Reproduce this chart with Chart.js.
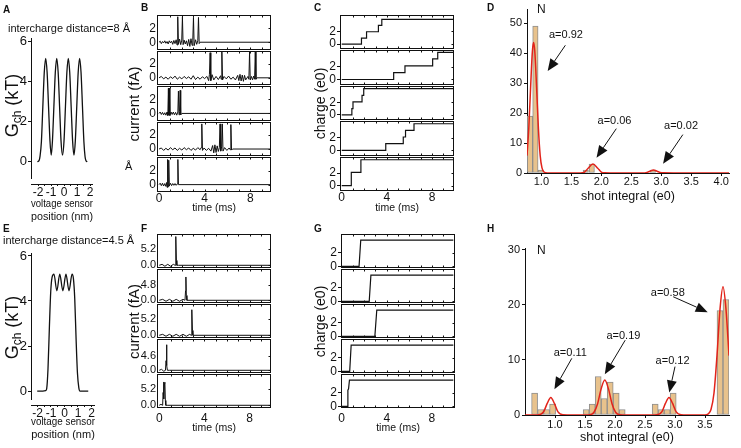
<!DOCTYPE html>
<html>
<head>
<meta charset="utf-8">
<script src="https://cdn.jsdelivr.net/npm/chart.js@4.4.1/dist/chart.umd.min.js"></script>
<style>
  body { margin: 0; background: #fff; }
  #fig { position: relative; width: 741px; height: 448px; overflow: hidden;
         font-family: 'Liberation Sans', Arial, Helvetica, sans-serif; color: #111; }
  #fig canvas { position: absolute; }
  .t { position: absolute; white-space: nowrap; line-height: 1; transform: translateY(-50%); font-size: 11px; }
  .p { font-weight: bold; font-size: 10px; }
</style>
</head>
<body>
<div id="fig">
  <canvas id="cA" width="115" height="226" style="left:0;top:0"></canvas>
  <canvas id="cB" width="160" height="225" style="left:120px;top:0"></canvas>
  <canvas id="cC" width="160" height="225" style="left:300px;top:0"></canvas>
  <canvas id="cD" width="251" height="225" style="left:490px;top:0"></canvas>
  <canvas id="cE" width="115" height="223" style="left:0;top:225px"></canvas>
  <canvas id="cF" width="160" height="223" style="left:120px;top:225px"></canvas>
  <canvas id="cG" width="160" height="223" style="left:300px;top:225px"></canvas>
  <canvas id="cH" width="251" height="223" style="left:490px;top:225px"></canvas>

  <div class="t p" style="left:3px;top:10px">A</div>
  <div class="t p" style="left:141px;top:8px">B</div>
  <div class="t p" style="left:314px;top:8px">C</div>
  <div class="t p" style="left:487px;top:8px">D</div>
  <div class="t p" style="left:3px;top:229px">E</div>
  <div class="t p" style="left:141px;top:229px">F</div>
  <div class="t p" style="left:314px;top:229px">G</div>
  <div class="t p" style="left:487px;top:229px">H</div>
  <div class="t" style="left:8px;top:28px">intercharge distance=8 Å</div>
  <div class="t" style="left:3px;top:240px">intercharge distance=4.5 Å</div>
  <div class="t" style="left:125px;top:166px">Å</div>
  <div class="t" style="left:537px;top:9px;font-size:12px">N</div>
  <div class="t" style="left:537px;top:250px;font-size:12px">N</div>
</div>

<script>
// ---------- A / E : charge energy profile vs voltage sensor position ----------
const posA = [-2.05, -1.92, -1.85, -1.74, -1.63, -1.52, -1.41, -1.30, -1.19, -1.08, -0.985, -0.89, -0.78,
  -0.67, -0.56, -0.45, -0.34, -0.23, -0.115, 0.0, 0.11, 0.22, 0.33, 0.44, 0.55, 0.66, 0.765, 0.87,
  0.98, 1.09, 1.20, 1.31, 1.42, 1.53, 1.62, 1.69, 1.79];
const gA = [0, 0.05, 0.25, 1.0, 2.75, 4.46, 5.17, 4.46, 2.75, 1.04, 0.33, 1.04, 2.75,
  4.46, 5.17, 4.46, 2.75, 1.04, 0.33, 1.04, 2.75, 4.46, 5.17, 4.46, 2.75, 1.04, 0.33, 1.04,
  2.75, 4.46, 5.17, 4.46, 2.75, 1.0, 0.25, 0.05, 0];
const posE = [-2.02, -1.6, -1.4, -1.32, -1.22, -1.12, -1.02, -0.92, -0.78, -0.565, -0.35, -0.12,
  0.11, 0.335, 0.56, 0.66, 0.76, 0.86, 0.96, 1.06, 1.15, 1.76];
const gE = [0, 0, 0.02, 0.1, 1.0, 2.8, 4.4, 5.05, 5.19, 4.45, 5.19, 4.45,
  5.19, 4.45, 5.19, 5.0, 4.1, 2.3, 0.8, 0.15, 0, 0];
const posTicks = [-2, -1.5, -1, -0.5, 0, 0.5, 1, 1.5, 2];
const energyTicks = [0, 2, 4, 6];

// ---------- B : gating current traces, 8 Å (fA) ----------
const tB1 = [0, 0.1, 0.2, 0.3, 0.4, 0.5, 0.6, 0.7, 0.8, 0.9, 1.0, 1.1, 1.2, 1.3, 1.4, 1.5, 1.58, 1.64, 1.7, 1.8,
  1.9, 1.99, 2.05, 2.11, 2.2, 2.3, 2.4, 2.5, 2.6, 2.7, 2.8, 2.9, 2.96, 3.02, 3.08, 3.2, 3.3, 3.4, 3.46, 3.52, 3.6, 9.9];
const iB1 = [0, 0.15, -0.2, 0.1, -0.1, 0.2, -0.15, 0.1, -0.25, 0.2, -0.1, 0.15, -0.3, 0.25, -0.2, 0.35, -0.4, 3.65, -0.3, 0.45,
  -0.35, 0.3, 3.65, -0.35, 0.3, -0.25, 0.2, -0.5, 0.4, -0.6, 0.5, -0.45, 0.3, 3.55, -0.5, 0.35, -0.3, 0.2, 3.55, -0.2, 0, 0];
const tB2 = [0, 0.2, 0.4, 0.6, 0.8, 1.0, 1.2, 1.4, 1.6, 1.8, 2.0, 2.2, 2.4, 2.6, 2.8, 3.0, 3.2, 3.4, 3.6, 3.8,
  4.0, 4.2, 4.35, 4.42, 4.48, 4.54, 4.65, 4.8, 5.0, 5.2, 5.4, 5.45, 5.51, 5.57, 5.7, 5.9, 6.1, 6.3, 6.5, 6.7,
  6.9, 7.0, 7.1, 7.2, 7.3, 7.4, 7.5, 7.6, 7.8, 7.88, 7.94, 8.0, 8.1, 8.2, 8.3, 8.38, 8.44, 8.5, 8.6, 9.9];
const iB2 = [0, 0.2, -0.15, 0.1, -0.2, 0.15, -0.1, 0.25, -0.2, 0.1, -0.15, 0.2, -0.1, 0.15, -0.2, 0.3, -0.25, 0.1, -0.2, 0.15,
  -0.1, 0.2, -0.4, 0.5, 3.6, -0.4, 0.45, -0.3, 0.2, -0.25, 0.3, -0.2, 3.7, -0.3, 0.2, -0.15, 0.25, -0.2, 0.1, -0.3,
  0.35, -0.4, 0.5, -0.45, 0.4, -0.5, 0.35, -0.3, 0.2, -0.2, 3.7, -0.3, 0.2, -0.3, 0.25, -0.2, 3.7, -0.2, 0, 0];
const tB3 = [0, 0.1, 0.2, 0.3, 0.4, 0.5, 0.6, 0.7, 0.77, 0.82, 0.86, 0.9, 0.95, 1.05, 1.15, 1.25, 1.35, 1.45, 1.55, 1.65,
  1.7, 1.75, 1.8, 1.85, 1.9, 2.0, 9.9];
const iB3 = [0, 0.2, -0.15, 0.15, -0.2, 0.1, -0.25, 0.2, -0.3, 3.6, -0.2, 3.6, -0.3, 0.2, -0.15, 0.2, -0.2, 0.15, -0.25, 0.2,
  3.2, -0.2, 0.3, 3.3, -0.2, 0, 0];
const tB4 = [0, 0.2, 0.4, 0.6, 0.8, 1.0, 1.2, 1.4, 1.6, 1.8, 2.0, 2.2, 2.4, 2.6, 2.8, 3.0, 3.2, 3.4, 3.6, 3.69,
  3.75, 3.81, 3.95, 4.15, 4.35, 4.55, 4.7, 4.8, 4.9, 5.0, 5.1, 5.2, 5.29, 5.35, 5.41, 5.49, 5.55, 5.61, 5.75, 5.95,
  6.15, 6.24, 6.3, 6.36, 6.45, 9.9];
const iB4 = [0, 0.15, -0.2, 0.1, -0.15, 0.2, -0.1, 0.15, -0.2, 0.1, -0.15, 0.2, -0.1, 0.15, -0.2, 0.1, -0.15, 0.2, -0.1, 0.2,
  3.6, -0.2, 0.15, -0.2, 0.1, -0.3, 0.5, -0.55, 0.6, -0.5, 0.45, -0.35, 0.2, 3.6, -0.3, 0.3, 3.6, -0.3, 0.2, -0.2,
  0.15, -0.1, 3.5, -0.15, 0, 0];
const tB5 = [0, 0.1, 0.2, 0.3, 0.4, 0.5, 0.6, 0.66, 0.71, 0.75, 0.8, 0.85, 0.9, 1.0, 1.1, 1.2, 1.3, 1.4, 1.5, 1.6,
  1.65, 1.7, 9.9];
const iB5 = [0, 0.2, -0.15, 0.2, -0.2, 0.15, -0.25, 0.3, -0.4, 3.6, -0.3, 3.5, -0.2, 0.2, -0.15, 0.15, -0.1, 0.15, -0.1, 0.1,
  3.6, 0, 0];

// ---------- C : integrated charge, 8 Å (e0) ----------
const tC1 = [0, 1.75, 2.2, 3.25, 3.55, 9.9];
const qC1 = [0, 0.95, 1.95, 2.95, 3.9, 3.9];
const tC2 = [0, 4.6, 5.6, 8.05, 8.5, 9.9];
const qC2 = [0, 1.1, 2.15, 3.25, 4.3, 4.3];
const tC3 = [0, 0.9, 1.0, 1.8, 1.95, 9.9];
const qC3 = [0, 1.0, 2.05, 3.1, 4.15, 4.15];
const tC4 = [0, 3.9, 5.45, 5.65, 6.4, 9.9];
const qC4 = [0, 1.05, 2.1, 3.15, 4.2, 4.2];
const tC5 = [0, 0.85, 1.7, 9.9];
const qC5 = [0, 2.1, 4.1, 4.1];

// ---------- F : gating current traces, 4.5 Å ----------
const tF1 = [0, 0.25, 0.5, 0.75, 1.0, 1.25, 1.4, 1.45, 1.48, 1.52, 1.56, 1.7, 9.9];
const iF1 = [0, 0.3, -0.3, 0.3, -0.3, 0.3, 0, 3, 9.0, 1.5, 0, 0, 0];
const tF2 = [0, 0.3, 0.6, 0.9, 1.2, 1.5, 1.8, 2.1, 2.28, 2.33, 2.36, 2.4, 2.45, 9.9];
const iF2 = [0, 0.3, -0.3, 0.3, -0.3, 0.3, -0.3, 0.3, 0, 3, 7.3, 1.5, 0, 0];
const tF3 = [0, 0.3, 0.6, 0.9, 1.2, 1.5, 1.8, 2.1, 2.4, 2.7, 2.82, 2.87, 2.9, 2.94, 2.98, 9.9];
const iF3 = [0, 0.3, -0.3, 0.3, -0.3, 0.3, -0.3, 0.3, -0.3, 0.3, 0, 3, 8.0, 1.5, 0, 0];
const tF4 = [0, 0.2, 0.4, 0.55, 0.6, 0.64, 0.68, 0.72, 0.9, 9.9];
const iF4 = [0, 0.3, -0.3, 0, 3, 8.0, 1.5, 0, 0, 0];
const tF5 = [0, 0.15, 0.3, 0.34, 0.38, 0.42, 0.46, 0.5, 0.54, 0.58, 0.7, 9.9];
const iF5 = [0, 0.3, 0, 4, 7.3, 2, 6.8, 7.2, 1.5, 0, 0, 0];

// ---------- G : integrated charge, 4.5 Å ----------
const tG1 = [0, 1.55, 1.7, 9.9];
const qG1 = [0, 0, 3.9, 3.9];
const tG2 = [0, 2.45, 2.6, 9.9];
const qG2 = [0, 0, 3.9, 3.9];
const tG3 = [0, 2.95, 3.12, 9.9];
const qG3 = [0, 0, 3.9, 3.9];
const tG4 = [0, 0.72, 0.85, 9.9];
const qG4 = [0, 0, 3.9, 3.9];
const tG5 = [0, 0.5, 0.56, 0.62, 0.7, 9.9];
const qG5 = [0, 0, 2.4, 2.6, 3.9, 3.9];

const timeTicks = [0, 4, 8];
const timeMinor = [1, 2, 3, 4, 5, 6, 7, 8, 9];
const smallTicks = [0, 2];
const currentTicksF = [[0, 5.2], [0, 4.8], [0, 5.2], [0, 4.6], [0, 5.2]];

// ---------- D : shot integral histogram, 8 Å ----------
const binsD = [0.81, 0.90, 0.99, 1.74, 1.84, 2.86];
const countsD = [19, 49, 1, 1, 3, 1];
const fitXD = [0.76, 0.79, 0.82, 0.85, 0.87, 0.89, 0.92, 0.95, 0.98, 1.01, 1.05, 1.1, 1.2, 1.65, 1.72, 1.78,
  1.86, 1.94, 2.0, 2.06, 2.15, 2.7, 2.76, 2.81, 2.87, 2.93, 2.98, 3.04, 3.2, 4.13];
const fitYD = [5.8, 15, 28.5, 40.6, 43.5, 40.6, 28.5, 15, 5.8, 1.7, 0.2, 0, 0, 0, 0.3, 1.6,
  3.0, 1.6, 0.3, 0.05, 0, 0, 0.2, 0.6, 1.0, 0.6, 0.2, 0.05, 0, 0];
const annLabD = ['a=0.92', 'a=0.06', 'a=0.02'];
const annTextD = [[1.41, 46.1], [2.22, 17.3], [3.33, 15.6]];
const annTailD = [[1.40, 42.6], [2.25, 14.8], [3.36, 12.8]];
const annTipD = [[1.105, 34], [1.92, 5.1], [3.03, 3.1]];
const shotTicksD = [1, 1.5, 2, 2.5, 3, 3.5, 4];
const countTicksD = [0, 10, 20, 30, 40, 50];

// ---------- H : shot integral histogram, 4.5 Å ----------
const binsH = [0.66, 0.76, 0.86, 0.96, 1.52, 1.62, 1.72, 1.82, 1.92, 2.02, 2.12, 2.67, 2.77, 2.87, 2.97, 3.75, 3.85];
const countsH = [4, 1, 1, 2, 1, 2, 7, 3, 6, 4, 1, 2, 1, 1, 4, 19, 21];
const fitXH = [0.5, 0.7, 0.81, 0.87, 0.93, 0.99, 1.05, 1.13, 1.3, 1.5, 1.58, 1.65, 1.71, 1.77, 1.83, 1.89,
  1.95, 2.01, 2.08, 2.2, 2.6, 2.7, 2.78, 2.84, 2.9, 2.96, 3.02, 3.1, 3.2, 3.5, 3.55, 3.6, 3.65, 3.7, 3.75,
  3.8, 3.85, 3.9];
const fitYH = [0, 0, 0.58, 2.1, 3.2, 2.1, 0.58, 0.05, 0, 0, 0.05, 0.5, 2.06, 4.8, 6.35, 4.8,
  2.06, 0.5, 0.05, 0, 0, 0.05, 0.58, 2.1, 3.2, 2.1, 0.58, 0.05, 0, 0, 0.18, 1.0, 4.0, 10.8, 19.2,
  23.3, 19.2, 10.8];
const annLabH = ['a=0.11', 'a=0.19', 'a=0.12', 'a=0.58'];
const annTextH = [[1.255, 11.3], [2.14, 14.4], [2.96, 9.8], [2.88, 22.1]];
const annTailH = [[1.28, 10.3], [2.17, 13.6], [3.0, 8.8], [2.97, 21.5]];
const annTipH = [[0.99, 4.7], [1.83, 7.4], [2.905, 4.1], [3.545, 18.7]];
const shotTicksH = [1, 1.5, 2, 2.5, 3, 3.5];
const countTicksH = [0, 10, 20, 30];

// ---------- chart setup ----------
const FONT = "'Liberation Sans', Arial, Helvetica, sans-serif";
const INK = '#111';
Chart.defaults.font.family = FONT;
Chart.defaults.color = INK;
Chart.defaults.borderColor = INK;
Chart.defaults.animation = false;
Chart.defaults.events = [];
Chart.defaults.plugins.legend.display = false;
Chart.defaults.plugins.tooltip.enabled = false;

const pts = (xs, ys) => xs.map((x, k) => ({x: x, y: ys[k]}));
const fixW = w => s => { s.width = w; };
const fixH = h => s => { s.height = h; };
const useTicks = vals => s => { s.ticks = vals.map(v => ({value: v})); };

// igor-style axes: y line stops short of the x line
const axisLines = {
  id: 'axisLines',
  afterDraw(chart, args, o) {
    const {ctx, chartArea: a} = chart;
    const xl = Math.round(a.left) + 0.5, yb = Math.round(a.bottom) + 0.5;
    ctx.save();
    ctx.strokeStyle = INK;
    ctx.lineWidth = 1;
    ctx.beginPath();
    ctx.moveTo(xl, a.top);
    ctx.lineTo(xl, a.bottom - o.gap);
    ctx.moveTo(a.left, yb);
    ctx.lineTo(a.right, yb);
    ctx.stroke();
    ctx.restore();
  }
};

// G with subscript ch, rotated
const gch = {
  id: 'gch',
  afterDraw(chart, args, o) {
    const ctx = chart.ctx;
    const big = o.size + 'px ' + FONT, small = Math.round(o.size * 0.68) + 'px ' + FONT;
    ctx.save();
    ctx.translate(o.x, o.y);
    ctx.rotate(-Math.PI / 2);
    ctx.fillStyle = INK;
    ctx.font = big;
    const w1 = ctx.measureText('G').width, w3 = ctx.measureText(' (kT)').width;
    ctx.font = small;
    const w2 = ctx.measureText('ch').width;
    let cx = -(w1 + w2 + w3) / 2;
    const base = o.size * 0.36;
    ctx.font = big; ctx.fillText('G', cx, base); cx += w1;
    ctx.font = small; ctx.fillText('ch', cx, base + o.size * 0.12); cx += w2;
    ctx.font = big; ctx.fillText(' (kT)', cx, base);
    ctx.restore();
  }
};

// boxed sub-panels for the stacked trace columns
const frames = {
  id: 'frames',
  afterDatasetsDraw(chart) {
    const {ctx, chartArea: a, scales} = chart;
    const xs = scales.x;
    const xl = Math.round(a.left) + 0.5, xr = Math.round(a.right) - 0.5;
    ctx.save();
    ctx.strokeStyle = INK;
    ctx.lineWidth = 1;
    Object.keys(scales).filter(k => k !== 'x').forEach(k => {
      const s = scales[k];
      const yt = Math.round(s.top) + 0.5, yb = Math.round(s.bottom) - 1.5;
      ctx.strokeRect(xl, yt, xr - xl, yb - yt);
      ctx.beginPath();
      timeMinor.forEach(t => {
        const px = Math.round(xs.getPixelForValue(t)) + 0.5;
        ctx.moveTo(px, yt); ctx.lineTo(px, yt + 2);
        ctx.moveTo(px, yb); ctx.lineTo(px, yb - 2);
      });
      s.ticks.forEach(tk => {
        const py = Math.round(s.getPixelForValue(tk.value)) + 0.5;
        ctx.moveTo(xr, py); ctx.lineTo(xr - 2, py);
      });
      ctx.stroke();
    });
    ctx.restore();
  }
};

const arrows = {
  id: 'arrows',
  afterDatasetsDraw(chart, args, o) {
    const {ctx, scales: {x, y}} = chart;
    ctx.save();
    ctx.fillStyle = INK;
    ctx.strokeStyle = INK;
    ctx.lineWidth = 1;
    ctx.font = '11px ' + FONT;
    ctx.textAlign = 'center';
    ctx.textBaseline = 'middle';
    o.labels.forEach((lab, i) => {
      ctx.fillText(lab, x.getPixelForValue(o.text[i][0]), y.getPixelForValue(o.text[i][1]));
      const x0 = x.getPixelForValue(o.tail[i][0]), y0 = y.getPixelForValue(o.tail[i][1]);
      const x1 = x.getPixelForValue(o.tip[i][0]), y1 = y.getPixelForValue(o.tip[i][1]);
      const ang = Math.atan2(y1 - y0, x1 - x0), L = 12, W = 5;
      const bx = x1 - L * Math.cos(ang), by = y1 - L * Math.sin(ang);
      ctx.beginPath();
      ctx.moveTo(x0, y0);
      ctx.lineTo(bx, by);
      ctx.stroke();
      ctx.beginPath();
      ctx.moveTo(x1, y1);
      ctx.lineTo(bx + W * Math.sin(ang), by - W * Math.cos(ang));
      ctx.lineTo(bx - W * Math.sin(ang), by + W * Math.cos(ang));
      ctx.closePath();
      ctx.fill();
    });
    ctx.restore();
  }
};

function energyPanel(id, xs, ys, g) {
  new Chart(document.getElementById(id), {
    type: 'line',
    data: {datasets: [{data: pts(xs, ys), borderColor: INK, borderWidth: 1.3, pointRadius: 0,
      cubicInterpolationMode: 'monotone'}]},
    options: {
      responsive: false,
      layout: {padding: {top: g.top, right: g.right, bottom: 0, left: 0}},
      scales: {
        x: {
          type: 'linear', min: g.xMin, max: g.xMax,
          afterBuildTicks: useTicks(posTicks), afterFit: fixH(g.xH),
          grid: {drawOnChartArea: false, tickLength: 2, color: INK},
          border: {display: false},
          ticks: {autoSkip: false, maxRotation: 0, padding: -1, font: {size: 12},
            callback: v => Number.isInteger(v) ? String(v) : ''},
          title: {display: true, text: ['voltage sensor', 'position (nm)'], font: {size: 11, lineHeight: 1.18},
            padding: {top: 0, bottom: g.titlePb}}
        },
        y: {
          type: 'linear', min: g.yMin, max: g.yMax,
          afterBuildTicks: useTicks(energyTicks), afterFit: fixW(31),
          grid: {drawOnChartArea: false, tickLength: 3, color: INK},
          border: {display: false},
          ticks: {padding: 1, font: {size: 13}}
        }
      },
      plugins: {axisLines: {gap: 5}, gch: {x: 12, y: g.titleY, size: 18}}
    },
    plugins: [axisLines, gch]
  });
}

function column(id, traces, g) {
  const scales = {
    x: {
      type: 'linear', min: g.xMin, max: g.xMax,
      afterBuildTicks: useTicks(timeTicks), afterFit: fixH(g.xH),
      grid: {display: false, drawTicks: false},
      border: {display: false},
      ticks: {autoSkip: false, maxRotation: 0, padding: g.xPad, font: {size: 12}},
      title: {display: true, text: 'time (ms)', font: {size: 10.5}, padding: {top: 0, bottom: g.titlePb}}
    }
  };
  traces.forEach((tr, i) => {
    scales['y' + i] = {
      type: 'linear', position: 'left', stack: id, stackWeight: 1, weight: 10 - i,
      min: g.yMin, max: g.yMax,
      afterBuildTicks: useTicks(g.yTicks[i]), afterFit: fixW(g.yW),
      grid: {display: g.yTickLen > 0, drawOnChartArea: false, drawTicks: g.yTickLen > 0,
        tickLength: g.yTickLen, color: INK},
      border: {display: false},
      ticks: {padding: 1, font: {size: g.yFont}, callback: g.yFmt},
      title: {display: i === 2, text: g.yTitle, font: {size: g.yTitleSize}, padding: {top: g.yTitlePt, bottom: 0}}
    };
  });
  new Chart(document.getElementById(id), {
    type: 'line',
    data: {datasets: traces.map((tr, i) => ({
      data: pts(tr[0], tr[1]), yAxisID: 'y' + i, borderColor: INK, borderWidth: g.lw,
      pointRadius: 0, stepped: g.stepped
    }))},
    options: {
      responsive: false,
      layout: {padding: {top: g.top, right: g.right, bottom: 0, left: 0}},
      scales: scales
    },
    plugins: [frames]
  });
}

function histPanel(id, bins, counts, fx, fy, g) {
  new Chart(document.getElementById(id), {
    type: 'bar',
    data: {datasets: [
      {type: 'line', data: pts(fx, fy), borderColor: '#e2231a', borderWidth: 1.5, pointRadius: 0,
        cubicInterpolationMode: 'monotone', order: 0},
      {type: 'bar', data: pts(bins, counts), backgroundColor: '#e8c28c', borderColor: '#8e8e8e',
        borderWidth: 1, borderSkipped: false, barPercentage: 1, categoryPercentage: 1, grouped: false, order: 1}
    ]},
    options: {
      responsive: false,
      layout: {padding: {top: g.top, right: g.right, bottom: 0, left: 0}},
      scales: {
        x: {
          type: 'linear', min: g.xMin, max: g.xMax, offset: false,
          afterBuildTicks: useTicks(g.xTicks), afterFit: fixH(g.xH),
          grid: {offset: false, drawOnChartArea: false, tickLength: 3, color: INK},
          border: {color: INK},
          ticks: {autoSkip: false, maxRotation: 0, padding: g.xPad, font: {size: 11}, callback: v => v.toFixed(1)},
          title: {display: true, text: 'shot integral (e0)', font: {size: 12.5}, padding: {top: 0, bottom: g.titlePb}}
        },
        y: {
          type: 'linear', min: 0, max: g.yMax,
          afterBuildTicks: useTicks(g.yTicks), afterFit: fixW(g.yW),
          grid: {drawOnChartArea: false, tickLength: 3, color: INK},
          border: {color: INK},
          ticks: {padding: 2, font: {size: 11}}
        }
      },
      plugins: {arrows: g.ann}
    },
    plugins: [arrows]
  });
}

energyPanel('cA', posA, gA, {top: 38, right: 22, xH: 42, xMin: -2.54, xMax: 2.23,
  yMin: -1.115, yMax: 6.185, titlePb: 2.5, titleY: 105.5});
energyPanel('cE', posE, gE, {top: 28, right: 20, xH: 43, xMin: -2.48, xMax: 2.26,
  yMin: -0.62, yMax: 6.13, titlePb: 7, titleY: 102.5});

const five = t => [t, t, t, t, t];
column('cB', [[tB1, iB1], [tB2, iB2], [tB3, iB3], [tB4, iB4], [tB5, iB5]], {
  xMin: -0.18, xMax: 9.82, xH: 32, xPad: -2, titlePb: 10.4, top: 15, right: 9,
  yW: 37, yMin: -1.2, yMax: 3.9, yTicks: five(smallTicks),
  yTickLen: 0, yFont: 12, yFmt: v => String(v), yTitle: 'current (fA)', yTitleSize: 15, yTitlePt: 6.2,
  lw: 1, stepped: false
});
column('cC', [[tC1, qC1], [tC2, qC2], [tC3, qC3], [tC4, qC4], [tC5, qC5]], {
  xMin: -0.15, xMax: 9.94, xH: 33, xPad: -2, titlePb: 10.4, top: 15, right: 6,
  yW: 40, yMin: -1.0, yMax: 4.6, yTicks: five(smallTicks),
  yTickLen: 3, yFont: 12, yFmt: v => String(v), yTitle: 'charge (e0)', yTitleSize: 14, yTitlePt: 13,
  lw: 1.2, stepped: 'before'
});
column('cF', [[tF1, iF1], [tF2, iF2], [tF3, iF3], [tF4, iF4], [tF5, iF5]], {
  xMin: -0.2, xMax: 9.9, xH: 39, xPad: 2, titlePb: 14, top: 9, right: 9,
  yW: 37, yMin: -1.16, yMax: 9.8, yTicks: currentTicksF,
  yTickLen: 0, yFont: 11, yFmt: v => v.toFixed(1), yTitle: 'current (fA)', yTitleSize: 15, yTitlePt: 6.2,
  lw: 1, stepped: false
});
column('cG', [[tG1, qG1], [tG2, qG2], [tG3, qG3], [tG4, qG4], [tG5, qG5]], {
  xMin: -0.05, xMax: 10.05, xH: 39, xPad: 2, titlePb: 14, top: 9, right: 5,
  yW: 41, yMin: -0.4, yMax: 4.8, yTicks: five(smallTicks),
  yTickLen: 3, yFont: 12, yFmt: v => String(v), yTitle: 'charge (e0)', yTitleSize: 14, yTitlePt: 13,
  lw: 1.2, stepped: false
});

histPanel('cD', binsD, countsD, fitXD, fitYD, {
  top: 9, right: 12, xH: 52, yW: 37, xMin: 0.76, xMax: 4.13, yMax: 54.7, xPad: -1, titlePb: 21,
  xTicks: shotTicksD, yTicks: countTicksD,
  ann: {labels: annLabD, text: annTextD, tail: annTailD, tip: annTipD}
});
histPanel('cH', binsH, countsH, fitXH, fitYH, {
  top: 23, right: 12, xH: 33, yW: 35, xMin: 0.5, xMax: 3.9, yMax: 30.36, xPad: 0, titlePb: 3,
  xTicks: shotTicksH, yTicks: countTicksH,
  ann: {labels: annLabH, text: annTextH, tail: annTailH, tip: annTipH}
});
</script>
</body>
</html>
